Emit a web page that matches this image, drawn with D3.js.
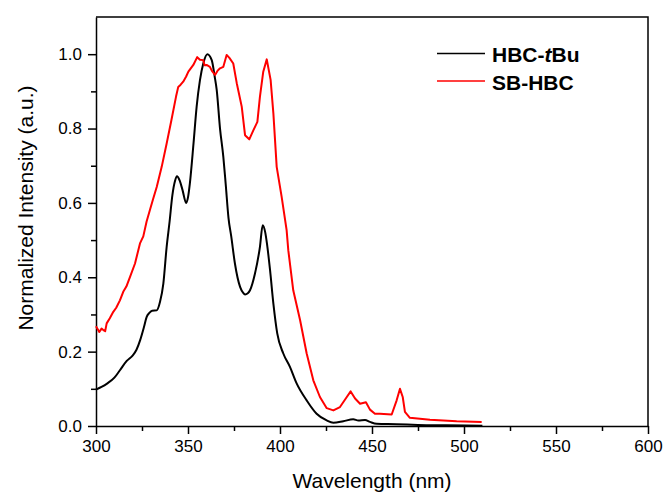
<!DOCTYPE html>
<meta charset="utf-8">
<style>
    body { margin: 0; background: #fff; }
    text { font-family: Arial, "Liberation Sans", sans-serif; fill: #000; }
    .axis path, .axis line { stroke: #000; stroke-width: 1.5px; }
    .frame { fill: none; stroke: #000; stroke-width: 1.5px; }
    .curve { fill: none; stroke-width: 2px; stroke-linejoin: round; }
</style>
<body>
<script src="https://d3js.org/d3.v7.min.js"></script>
<script>
    // HBC-tBu spectrum
    var hbcWl = [300, 303, 306, 310, 313, 316.7, 320, 322, 324, 326, 327.5, 329, 330.5, 333, 334.8, 336.6,
        338.4, 340, 341.5, 343, 344, 345.5, 347, 349, 350, 351, 353, 354.7, 356.5, 358.3, 360.5, 362.9,
        364.5, 365.6, 367.4, 369.2, 370.5, 372, 373.5, 375.5, 378.3, 380, 381, 382.5, 383.7, 386.4,
        389.1, 390.6, 392, 392.9, 394.6, 396.4, 398.5, 401.8, 405.4, 409.1, 414.5, 419.9, 425.4, 429,
        434.4, 439.8, 442.6, 446.2, 448.9, 452.5, 463.4, 475, 490, 510];
    var hbcVal = [0.098, 0.105, 0.114, 0.13, 0.15, 0.175, 0.19, 0.205, 0.231, 0.265, 0.293, 0.304, 0.31, 0.311, 0.334, 0.383,
        0.482, 0.55, 0.62, 0.66, 0.672, 0.66, 0.635, 0.6, 0.615, 0.652, 0.76, 0.859, 0.93, 0.975, 1.0, 0.984,
        0.94, 0.904, 0.8, 0.724, 0.65, 0.56, 0.51, 0.437, 0.374, 0.358, 0.354, 0.357, 0.365, 0.41,
        0.482, 0.54, 0.52, 0.491, 0.419, 0.329, 0.249, 0.195, 0.159, 0.114, 0.069, 0.033, 0.015, 0.009,
        0.013, 0.018, 0.015, 0.016, 0.011, 0.006, 0.005, 0.003, 0.002, 0.001];

    // SB-HBC spectrum
    var sbWl = [300, 301.8, 303, 304, 305, 305.8, 307.5, 309.4, 311, 313, 314.8, 316.5, 318.5, 321.2, 323.9, 325.7,
        327.5, 329.3, 331, 333, 335.7, 338.4, 341, 343.5, 344.7, 346, 347.4, 349, 350.2, 352.9, 355, 356.5,
        358.3, 359, 360.1, 361.9, 363, 364.7, 366, 367.4, 369.2, 371, 372.5, 374.6, 376.5, 379.2, 381,
        383.3, 385.5, 387.7, 389.1, 390.9, 392.8, 394.9, 396.4, 398.2, 400.9, 403.6, 404.5, 407.2, 410.9,
        414.5, 418.1, 421.7, 425.4, 429, 432.6, 436.3, 438.4, 440.8, 443.5, 446.7, 448.9, 451.6, 454.3,
        460.7, 463.4, 465.2, 466.7, 467.9, 470.6, 481.5, 496, 509.6];
    var sbVal = [0.268, 0.253, 0.262, 0.258, 0.255, 0.276, 0.29, 0.307, 0.318, 0.338, 0.361, 0.375, 0.401, 0.437, 0.491, 0.51,
        0.55, 0.581, 0.61, 0.643, 0.697, 0.76, 0.823, 0.886, 0.912, 0.918, 0.926, 0.94, 0.953, 0.971, 0.992, 0.985,
        0.984, 0.97, 0.971, 0.966, 0.955, 0.944, 0.955, 0.962, 0.966, 0.998, 0.99, 0.975, 0.922, 0.859, 0.782,
        0.771, 0.795, 0.818, 0.886, 0.953, 0.986, 0.931, 0.841, 0.697, 0.616, 0.527, 0.473, 0.365, 0.285,
        0.195, 0.123, 0.078, 0.048, 0.042, 0.051, 0.078, 0.093, 0.074, 0.06, 0.064, 0.044, 0.033, 0.033,
        0.031, 0.069, 0.1, 0.078, 0.038, 0.022, 0.017, 0.013, 0.011];

    var seriesNames = ["HBC-tBu", "SB-HBC"];
    var seriesColors = ["#000000", "#ff0000"];
    var xTicks = [300, 350, 400, 450, 500, 550, 600];
    var yTicks = [0.0, 0.2, 0.4, 0.6, 0.8, 1.0];

    (function() {
        var W = 664, H = 492;
        var mLeft = 96, mRight = 648, mTop = 17, mBottom = 426;

        var x = d3.scaleLinear().domain([300, 600]).range([mLeft, mRight]);
        var y = d3.scaleLinear().domain([0, 1.1]).range([mBottom, mTop]);

        var svg = d3.select("body").append("svg")
            .attr("width", W)
            .attr("height", H);

        // minor ticks
        svg.append("g")
            .attr("class", "axis")
            .attr("transform", "translate(0," + mBottom + ")")
            .call(d3.axisBottom(x).tickValues(d3.range(325, 600, 50)).tickSize(5).tickFormat(""))
            .select(".domain").remove();
        svg.append("g")
            .attr("class", "axis")
            .attr("transform", "translate(" + mLeft + ",0)")
            .call(d3.axisLeft(y).tickValues([0.1, 0.3, 0.5, 0.7, 0.9]).tickSize(5).tickFormat(""))
            .select(".domain").remove();

        // major axes
        svg.append("g")
            .attr("class", "axis")
            .attr("transform", "translate(0," + mBottom + ")")
            .call(d3.axisBottom(x).tickValues(xTicks).tickSize(8).tickSizeOuter(0).tickPadding(6).tickFormat(d3.format("d")))
            .attr("font-size", 17);
        svg.append("g")
            .attr("class", "axis")
            .attr("transform", "translate(" + mLeft + ",0)")
            .call(d3.axisLeft(y).tickValues(yTicks).tickSize(8).tickSizeOuter(0).tickPadding(6).tickFormat(d3.format(".1f")))
            .attr("font-size", 17);

        // top and right border
        svg.append("path")
            .attr("class", "frame")
            .attr("d", "M" + mLeft + "," + mTop + "H" + mRight + "V" + mBottom);

        // black trace is smooth, red one is noisy
        var smooth = d3.line()
            .curve(d3.curveMonotoneX)
            .x(function(d) { return x(d[0]); })
            .y(function(d) { return y(d[1]); });
        var jagged = d3.line()
            .x(function(d) { return x(d[0]); })
            .y(function(d) { return y(d[1]); });

        var series = [d3.zip(hbcWl, hbcVal), d3.zip(sbWl, sbVal)];
        svg.selectAll(".curve")
            .data(series)
            .enter().append("path")
            .attr("class", "curve")
            .attr("stroke", function(d, i) { return seriesColors[i]; })
            .attr("d", function(d, i) { return i === 0 ? smooth(d) : jagged(d); });

        // axis titles
        svg.append("text")
            .attr("x", (mLeft + mRight) / 2)
            .attr("y", 488)
            .attr("text-anchor", "middle")
            .style("font-size", "21px")
            .text("Wavelength (nm)");
        svg.append("text")
            .attr("transform", "translate(33,208) rotate(-90)")
            .attr("text-anchor", "middle")
            .style("font-size", "21px")
            .text("Normalized Intensity (a.u.)");

        // legend
        var legend = svg.append("g");
        seriesNames.forEach(function(name, i) {
            var ly = 53.5 + i * 27.5;
            legend.append("line")
                .attr("x1", 437).attr("x2", 485)
                .attr("y1", ly).attr("y2", ly)
                .attr("stroke", seriesColors[i])
                .attr("stroke-width", 1.5);
            var t = legend.append("text")
                .attr("x", 492)
                .attr("y", ly + 8.5)
                .style("font-size", "21px")
                .style("font-weight", "bold");
            if (name === "HBC-tBu") {
                t.append("tspan").text("HBC-");
                t.append("tspan").style("font-style", "italic").text("t");
                t.append("tspan").text("Bu");
            } else {
                t.text(name);
            }
        });
    })();
</script>
</body>
